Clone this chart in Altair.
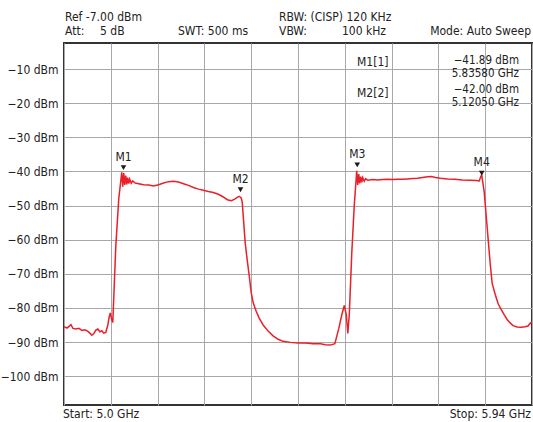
import altair as alt
import pandas as pd

# ---- trace data ----
freq_ghz = [
    5.000, 5.006, 5.010, 5.014, 5.018, 5.024, 5.030, 5.036, 5.042, 5.048,
    5.052, 5.056, 5.060, 5.064, 5.068, 5.072, 5.076, 5.080, 5.084, 5.088,
    5.091, 5.093, 5.096, 5.098, 5.104, 5.110, 5.116, 5.118, 5.120, 5.122,
    5.124, 5.126, 5.128, 5.130, 5.132, 5.135, 5.138, 5.143, 5.150, 5.160,
    5.170, 5.180, 5.190, 5.200, 5.210, 5.220, 5.230, 5.240, 5.250, 5.260,
    5.270, 5.280, 5.290, 5.300, 5.310, 5.320, 5.328, 5.336, 5.342, 5.348,
    5.352, 5.356, 5.358, 5.361, 5.364, 5.368, 5.372, 5.376, 5.380, 5.386,
    5.392, 5.400, 5.410, 5.420, 5.430, 5.440, 5.455, 5.470, 5.485, 5.500,
    5.515, 5.525, 5.535, 5.544, 5.552, 5.558, 5.563, 5.567, 5.570, 5.573,
    5.578, 5.583, 5.588, 5.590, 5.592, 5.594, 5.596, 5.598, 5.600, 5.603,
    5.606, 5.610, 5.620, 5.630, 5.640, 5.650, 5.660, 5.670, 5.680, 5.690,
    5.700, 5.710, 5.720, 5.730, 5.738, 5.746, 5.756, 5.770, 5.785, 5.800,
    5.815, 5.828, 5.834, 5.837, 5.839, 5.841, 5.844, 5.848, 5.852, 5.856,
    5.860, 5.866, 5.872, 5.878, 5.884, 5.890, 5.896, 5.902, 5.910, 5.918,
    5.926, 5.932, 5.936, 5.940,
]
level_dbm = [
    -85.5, -85.9, -85.4, -84.9, -86.0, -86.2, -86.0, -86.6, -86.4, -86.9,
    -87.4, -88.0, -87.5, -86.5, -86.2, -87.0, -86.7, -87.4, -87.2, -85.0,
    -82.5, -81.5, -83.5, -84.3, -62.0, -48.0, -40.3, -44.5, -40.5, -44.0,
    -41.2, -43.8, -41.8, -43.6, -42.3, -43.5, -42.8, -43.4, -43.6, -43.9,
    -44.0, -44.3, -43.9, -43.4, -43.0, -42.9, -43.1, -43.6, -44.1, -44.7,
    -45.2, -45.5, -45.9, -46.2, -46.7, -47.5, -48.3, -48.6, -48.2, -47.6,
    -47.3, -47.8, -49.0, -55.0, -61.0, -66.0, -70.5, -75.5, -78.5, -81.0,
    -83.0, -85.0, -86.8, -88.2, -89.2, -89.8, -90.1, -90.3, -90.3, -90.5,
    -90.5, -90.8, -90.9, -90.5, -86.0, -82.0, -79.3, -82.0, -87.5, -82.0,
    -64.0, -50.0, -39.8, -44.0, -40.8, -43.5, -41.5, -43.2, -41.8, -42.9,
    -42.1, -42.6, -42.4, -42.5, -42.4, -42.3, -42.4, -42.3, -42.3, -42.2,
    -42.1, -42.0, -41.8, -41.6, -41.5, -41.8, -42.0, -42.2, -42.3, -42.5,
    -42.6, -42.7, -42.8, -41.6, -41.0, -43.0, -46.0, -53.0, -60.0, -67.0,
    -72.8, -76.0, -78.8, -80.4, -82.0, -83.4, -84.4, -85.2, -85.6, -85.7,
    -85.5, -85.3, -84.6, -84.0,
]

# ---- markers ----
marker_names = ["M1", "M2", "M3", "M4"]
marker_freq = [5.1195, 5.3545, 5.5890, 5.8390]
marker_level = [-38.9, -45.4, -38.1, -40.5]

# ---- axis ticks ----
y_ticks = [-10, -20, -30, -40, -50, -60, -70, -80, -90, -100]
x_start, x_stop = 5.0, 5.94
x_grid = [round(x_start + i * (x_stop - x_start) / 10, 4) for i in range(11)]

FONT = "DejaVu Sans Condensed"
W, H = 468, 362

trace = pd.DataFrame({"f": freq_ghz, "p": level_dbm})
markers = pd.DataFrame({"name": marker_names, "f": marker_freq, "p": marker_level})

xs = alt.Scale(domain=[x_start, x_stop], nice=False, zero=False)
ys = alt.Scale(domain=[-108.45, -2.38], nice=False, zero=False)

xaxis = alt.Axis(values=x_grid, labels=False, ticks=False, domain=False, title=None,
                 grid=True, gridColor="#a8a8a8", gridWidth=1)
yaxis = alt.Axis(values=y_ticks, ticks=False, domain=False, title=None, grid=True,
                 gridColor="#a8a8a8", gridWidth=1, labelPadding=6,
                 labelExpr="'\u2212' + abs(datum.value) + ' dBm'",
                 labelFont=FONT, labelFontSize=12, labelColor="#222222")

line = alt.Chart(trace).mark_line(color="#e8202a", strokeWidth=1.5, clip=True).encode(
    x=alt.X("f:Q", scale=xs, axis=xaxis),
    y=alt.Y("p:Q", scale=ys, axis=yaxis),
    order=alt.Order("f:Q"),
)

tri = alt.Chart(markers).mark_point(shape="triangle-down", filled=True, color="#1a1a1a",
                                    size=32, opacity=1).encode(
    x=alt.X("f:Q", scale=xs), y=alt.Y("p:Q", scale=ys))
tri_lab = alt.Chart(markers).mark_text(font=FONT, fontSize=12, color="#222222", dy=-11).encode(
    x=alt.X("f:Q", scale=xs), y=alt.Y("p:Q", scale=ys), text="name:N")

# ---- annotation texts (pixel positions relative to plot origin) ----
ann_text = ["Ref -7.00 dBm", "Att:", "5 dB", "SWT: 500 ms", "RBW: (CISP) 120 KHz",
            "VBW:", "100 kHz", "Mode: Auto Sweep", "Start: 5.0 GHz", "Stop: 5.94 GHz",
            "M1[1]", "\u221241.89 dBm", "5.83580 GHz", "M2[2]", "\u221242.00 dBm", "5.12050 GHz"]
ann_x = [1, 1, 36, 114, 215, 215, 322, 467, -1, 467, 293, 455, 455, 293, 455, 455]
ann_y = [-26, -12, -12, -12, -26, -12, -12, -12, 371, 371, 19, 18, 30.5, 50, 46.5, 59.5]
ann_size = [12, 12, 12, 12, 12, 12, 12, 12, 12, 12, 12, 11.5, 11.5, 12, 11.5, 11.5]
ann_align = ["left", "left", "left", "left", "left", "left", "right", "right", "left", "right",
             "left", "right", "right", "left", "right", "right"]

layers = [line, tri, tri_lab]
for t, x, y, s, a in zip(ann_text, ann_x, ann_y, ann_size, ann_align):
    layers.append(
        alt.Chart(pd.DataFrame({"t": [t]})).mark_text(
            font=FONT, fontSize=s, color="#222222", align=a, baseline="middle"
        ).encode(x=alt.value(x), y=alt.value(y), text="t:N")
    )

chart = alt.layer(*layers).properties(
    width=W, height=H,
    autosize=alt.AutoSizeParams(type="none"),
    padding={"left": 64, "top": 43, "right": 1, "bottom": 17},
    background="white",
).configure_view(stroke="#333333", strokeWidth=2)

chart.save("out.html", embed_options={"renderer": "svg", "actions": False})
